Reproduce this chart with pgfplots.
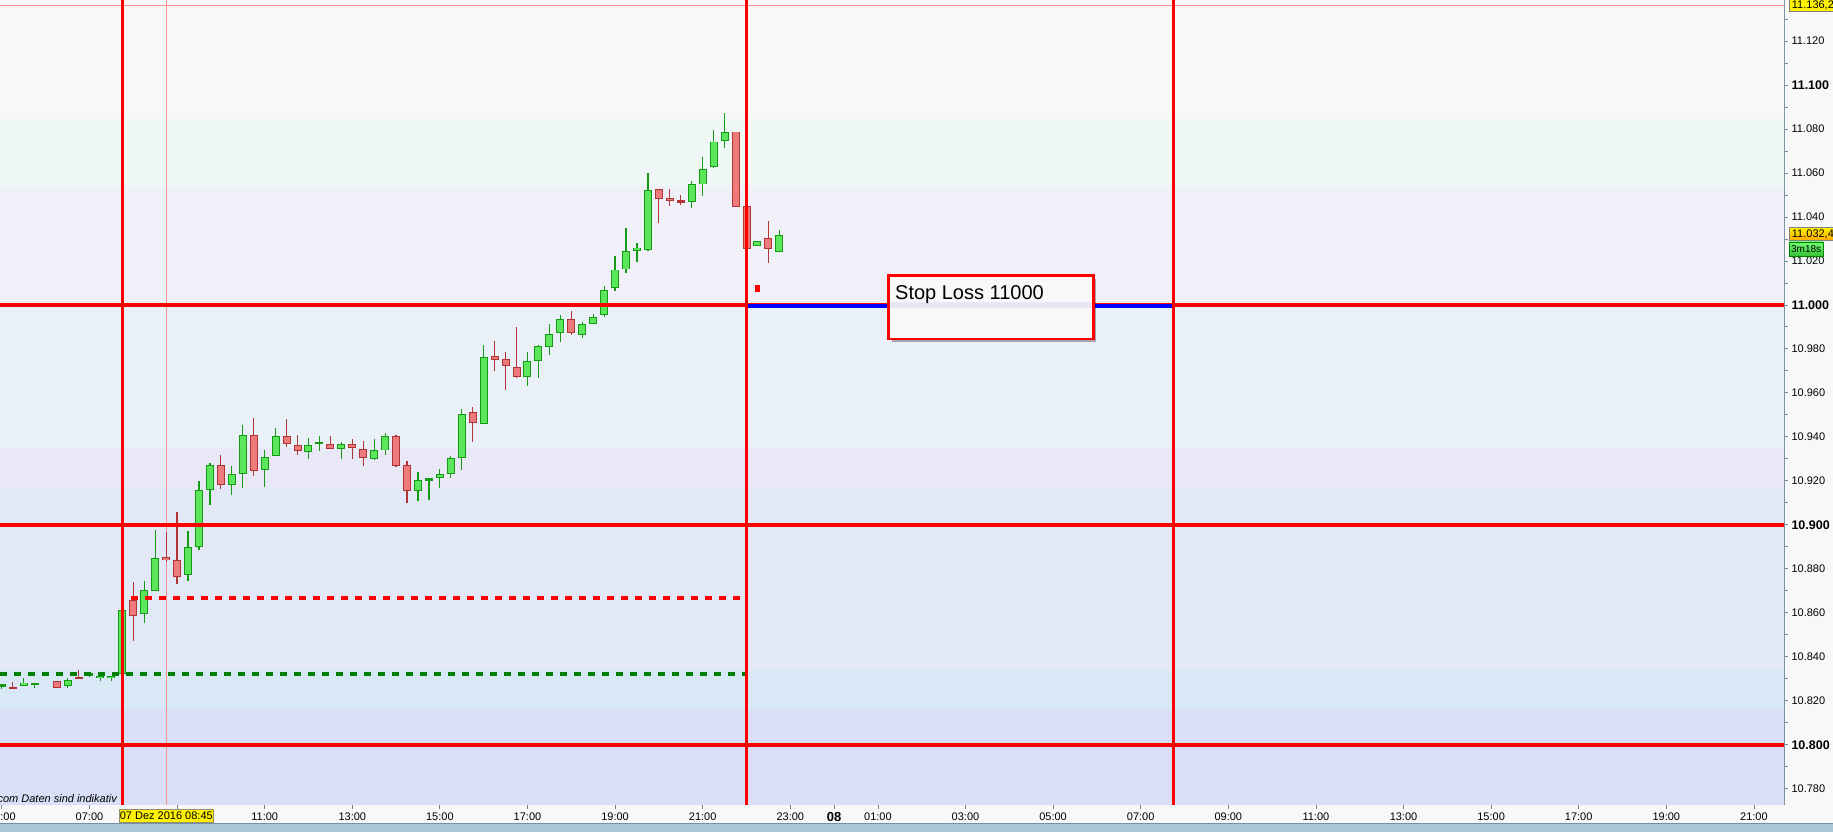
\documentclass[border=0pt]{standalone}
\usepackage{fontspec}
\setmainfont{Liberation Sans}
\usepackage{pgfplots}
\pgfplotsset{compat=1.18}
\usepackage{pgfplotstable}

\definecolor{bgtop}{HTML}{F8F8F8}
\definecolor{bandA}{HTML}{F0F8F7}
\definecolor{bandB}{HTML}{F0F0F8}
\definecolor{bandC}{HTML}{EAF0F8}
\definecolor{bandD}{HTML}{E9E8F6}
\definecolor{bandE}{HTML}{E2E8F5}
\definecolor{bandF}{HTML}{D9E8F6}
\definecolor{bandG}{HTML}{D8DFF6}
\definecolor{axisgray}{HTML}{708898}
\definecolor{strip}{HTML}{A8C8D8}
\definecolor{stripline}{HTML}{7890A0}
\definecolor{gfill}{HTML}{5CE65C}
\definecolor{gborder}{HTML}{159A15}
\definecolor{rfill}{HTML}{EE7B7B}
\definecolor{rborder}{HTML}{B03434}
\definecolor{pinkline}{HTML}{FF9090}
\definecolor{dgreen}{HTML}{008000}
\definecolor{lav}{HTML}{E8E8F5}

\newcommand\B[1]{{\bfseries\fontsize{12.5}{14}\selectfont #1}}

\pgfplotstableread{
t O H L C
5.00 10827.0 10827.2 10825.3 10827.0
5.50 10827.0 10830.3 10827.0 10828.4
5.75 10827.5 10827.5 10826.0 10827.5
6.50 10826.9 10830.7 10826.0 10829.3
7.00 10832.0 10833.4 10830.9 10832.0
7.25 10830.2 10831.2 10829.1 10831.2
7.50 10830.3 10831.4 10829.1 10831.4
7.75 10832.1 10861.3 10832.1 10861.3
8.25 10859.6 10874.4 10855.5 10870.2
8.50 10870.0 10897.6 10870.0 10884.8
9.25 10877.5 10897.2 10874.4 10889.9
9.50 10890.0 10919.9 10888.7 10915.8
9.75 10916.1 10928.1 10909.1 10927.1
10.25 10918.2 10926.7 10913.7 10923.4
10.50 10923.2 10945.4 10916.9 10940.7
11.00 10924.8 10934.0 10917.3 10930.7
11.25 10931.2 10944.0 10931.2 10940.3
12.00 10933.4 10939.5 10929.9 10936.6
12.25 10937.3 10940.3 10933.6 10937.3
12.75 10934.8 10937.6 10929.9 10937.0
13.50 10930.0 10938.9 10929.5 10933.9
13.75 10933.9 10941.7 10931.9 10940.3
14.50 10915.7 10924.0 10910.9 10920.7
14.75 10920.3 10921.2 10911.4 10921.2
15.00 10921.6 10925.4 10916.9 10923.4
15.25 10923.2 10931.3 10921.4 10930.7
15.50 10930.7 10952.7 10925.1 10950.7
16.00 10946.0 10981.8 10946.0 10976.2
17.00 10967.3 10978.6 10963.3 10974.8
17.25 10974.4 10981.8 10966.9 10981.2
17.50 10981.2 10991.3 10977.4 10987.1
17.75 10987.5 10995.4 10983.3 10993.5
18.25 10986.6 10992.2 10985.3 10991.6
18.50 10991.2 10995.8 10991.2 10994.8
18.75 10995.3 11008.6 10994.8 11007.1
19.00 11008.0 11022.2 11006.6 11016.2
19.25 11016.2 11035.0 11014.8 11024.8
19.50 11024.8 11028.2 11019.6 11026.2
19.75 11025.3 11060.0 11024.8 11052.6
20.75 11046.7 11056.7 11044.4 11054.8
21.00 11054.8 11067.6 11049.7 11061.7
21.25 11062.6 11079.4 11062.1 11074.4
21.50 11074.4 11087.1 11071.2 11078.5
22.25 11027.1 11029.4 11027.1 11029.4
22.75 11024.4 11034.1 11024.4 11032.1
}\greentab

\pgfplotstableread{
t O H L C
5.25 10826.1 10828.6 10825.2 10825.2
6.25 10829.3 10829.3 10826.1 10826.1
6.75 10830.6 10834.0 10830.3 10830.3
8.00 10865.8 10874.0 10847.3 10858.7
8.75 10885.2 10896.7 10883.3 10883.9
9.00 10883.9 10905.8 10873.2 10876.4
10.00 10927.1 10931.7 10916.4 10918.0
10.75 10940.7 10948.6 10922.3 10924.3
11.50 10940.3 10948.1 10935.5 10936.6
11.75 10936.2 10940.8 10931.9 10933.4
12.50 10937.0 10940.4 10934.8 10934.8
13.00 10937.0 10938.9 10929.9 10935.1
13.25 10934.8 10938.1 10926.9 10930.7
14.00 10940.3 10940.7 10926.4 10926.9
14.25 10927.1 10929.0 10910.0 10915.7
15.75 10951.2 10953.6 10937.8 10946.2
16.25 10976.6 10983.6 10970.1 10975.1
16.50 10975.3 10978.6 10961.4 10972.4
16.75 10972.0 10989.9 10966.9 10967.3
18.00 10993.5 10997.2 10986.6 10987.1
20.00 11052.6 11053.0 11037.4 11048.0
20.25 11048.9 11053.0 11045.3 11047.6
20.50 11047.6 11049.8 11045.7 11046.7
21.75 11078.9 11078.9 11044.4 11044.4
22.00 11044.8 11044.8 11025.3 11025.3
22.50 11030.7 11038.2 11019.2 11025.7
}\redtab

\pgfplotsset{
  wick/.style={only marks, mark=*, mark size=0pt, mark options={draw=none, fill=none}, forget plot,
    error bars/.cd, y dir=both, y explicit, error mark=none,
    error bar style={line width=1.2pt, draw=#1}},
  body/.style 2 args={only marks, mark=*, mark size=0pt, mark options={draw=none, fill=none}, forget plot,
    error bars/.cd, y dir=both, y explicit, error mark=none,
    error bar style={line width=#2, draw=#1}},
}

\begin{document}
\begin{tikzpicture}
\fill[bgtop] (0pt,-27pt) rectangle (1833pt,805pt);
\fill[strip] (0pt,-27pt) rectangle (1833pt,-18.8pt);
\draw[stripline, line width=1pt] (0pt,-18.5pt) -- (1833pt,-18.5pt);
\begin{axis}[
  at={(0pt,0pt)}, anchor=south west,
  scale only axis, width=1784pt, height=805pt,
  xmin=4.957, xmax=45.687, ymin=10772.6, ymax=11138.65,
  axis x line=bottom, axis y line=right,
  axis line style={draw=axisgray, line width=1pt, -},
  tick align=outside, major tick length=4pt, minor tick length=4pt,
  tick style={draw=axisgray, line width=0.8pt},
  clip mode=individual,
  xtick={5,7,9,11,13,15,17,19,21,23,24,25,27,29,31,33,35,37,39,41,43,45},
  xticklabels={05:00,07:00,09:00,11:00,13:00,15:00,17:00,19:00,21:00,23:00,{\bfseries\fontsize{13}{15}\selectfont 08},01:00,03:00,05:00,07:00,09:00,11:00,13:00,15:00,17:00,19:00,21:00},
  ytick={10780,10800,10820,10840,10860,10880,10900,10920,10940,10960,10980,11000,11020,11040,11060,11080,11100,11120},
  yticklabels={10.780,\B{10.800},10.820,10.840,10.860,10.880,\B{10.900},10.920,10.940,10.960,10.980,\B{11.000},11.020,11.040,11.060,11.080,\B{11.100},11.120},
  minor ytick={10790,10810,10830,10850,10870,10890,10910,10930,10950,10970,10990,11010,11030,11050,11070,11090,11110,11130},
  ticklabel style={font=\fontsize{11}{13}\selectfont, text=black},
]
% background bands
\addplot[draw=none, fill=bgtop, forget plot] coordinates {(4.9,11084.4) (45.8,11084.4) (45.8,11140) (4.9,11140)} -- cycle;
\addplot[draw=none, fill=bandA, forget plot] coordinates {(4.9,11054.2) (45.8,11054.2) (45.8,11084.4) (4.9,11084.4)} -- cycle;
\addplot[draw=none, fill=bandB, forget plot] coordinates {(4.9,11000.9) (45.8,11000.9) (45.8,11054.2) (4.9,11054.2)} -- cycle;
\addplot[draw=none, fill=bandC, forget plot] coordinates {(4.9,10935.1) (45.8,10935.1) (45.8,11000.9) (4.9,11000.9)} -- cycle;
\addplot[draw=none, fill=bandD, forget plot] coordinates {(4.9,10916.9) (45.8,10916.9) (45.8,10935.1) (4.9,10935.1)} -- cycle;
\addplot[draw=none, fill=bandE, forget plot] coordinates {(4.9,10834.0) (45.8,10834.0) (45.8,10916.9) (4.9,10916.9)} -- cycle;
\addplot[draw=none, fill=bandF, forget plot] coordinates {(4.9,10816.1) (45.8,10816.1) (45.8,10834.0) (4.9,10834.0)} -- cycle;
\addplot[draw=none, fill=bandG, forget plot] coordinates {(4.9,10770) (45.8,10770) (45.8,10816.1) (4.9,10816.1)} -- cycle;
% thin pink lines
\addplot[pinkline, line width=1pt, forget plot] coordinates {(8.75,10770) (8.75,11140)};
\addplot[pinkline, line width=1pt, forget plot] coordinates {(4.957,11136.2) (45.687,11136.2)};
% candles: wicks
\addplot[wick=gborder] table[x=t, y expr={(\thisrow{H}+\thisrow{L})/2}, y error plus expr={(\thisrow{H}-\thisrow{L})/2}, y error minus expr={(\thisrow{H}-\thisrow{L})/2}] {\greentab};
\addplot[wick=rborder] table[x=t, y expr={(\thisrow{H}+\thisrow{L})/2}, y error plus expr={(\thisrow{H}-\thisrow{L})/2}, y error minus expr={(\thisrow{H}-\thisrow{L})/2}] {\redtab};
% bodies
\addplot[body={gborder}{8pt}] table[x=t, y expr={(\thisrow{O}+\thisrow{C})/2}, y error plus expr={max(abs(\thisrow{C}-\thisrow{O})/2,0.55)}, y error minus expr={max(abs(\thisrow{C}-\thisrow{O})/2,0.55)}] {\greentab};
\addplot[body={gfill}{6pt}] table[x=t, y expr={(\thisrow{O}+\thisrow{C})/2}, y error plus expr={max(abs(\thisrow{C}-\thisrow{O})/2-0.45,0)}, y error minus expr={max(abs(\thisrow{C}-\thisrow{O})/2-0.45,0)}] {\greentab};
\addplot[body={rborder}{8pt}] table[x=t, y expr={(\thisrow{O}+\thisrow{C})/2}, y error plus expr={max(abs(\thisrow{C}-\thisrow{O})/2,0.55)}, y error minus expr={max(abs(\thisrow{C}-\thisrow{O})/2,0.55)}] {\redtab};
\addplot[body={rfill}{6pt}] table[x=t, y expr={(\thisrow{O}+\thisrow{C})/2}, y error plus expr={max(abs(\thisrow{C}-\thisrow{O})/2-0.45,0)}, y error minus expr={max(abs(\thisrow{C}-\thisrow{O})/2-0.45,0)}] {\redtab};
% dashed entry lines
\addplot[dgreen, line width=3.7pt, dash pattern=on 6.7pt off 7.3pt, forget plot] coordinates {(4.957,10832.1) (22.0,10832.1)};
\addplot[red, line width=3.7pt, dash pattern=on 6.7pt off 7.3pt, forget plot] coordinates {(7.95,10866.8) (22.0,10866.8)};
% horizontal levels
\addplot[red, line width=3.7pt, forget plot] coordinates {(4.957,11000) (45.687,11000)};
\addplot[red, line width=3.7pt, forget plot] coordinates {(4.957,10900) (45.687,10900)};
\addplot[red, line width=3.7pt, forget plot] coordinates {(4.957,10800) (45.687,10800)};
% stop loss segment
\addplot[blue, line width=4pt, forget plot] coordinates {(22.0,10999.5) (31.75,10999.5)};
% vertical time lines
\addplot[red, line width=3.5pt, forget plot] coordinates {(7.75,10770) (7.75,11140)};
\addplot[red, line width=3.5pt, forget plot] coordinates {(22.0,10770) (22.0,11140)};
\addplot[red, line width=3.5pt, forget plot] coordinates {(31.75,10770) (31.75,11140)};
% small marker
\addplot[red, only marks, mark=square*, mark size=2.5pt, mark options={xscale=0.8, yscale=1.2, draw=red, fill=red, line width=0pt}, forget plot] coordinates {(22.25,11007.3)};
% stop loss box
\fill[black, opacity=0.3] (axis cs:25.32,11011.9) rectangle (axis cs:29.99,10983.1);
\fill[bgtop] (axis cs:25.244,11013.3) rectangle (axis cs:29.92,10984.5);
\fill[lav] (axis cs:25.244,11001.5) rectangle (axis cs:29.92,10998.7);
\draw[red, line width=2.7pt] (axis cs:25.244,11013.3) rectangle (axis cs:29.92,10984.5);
\node[anchor=base west, inner sep=0pt, font=\fontsize{20}{24}\selectfont] at (axis cs:25.39,11002.5) {Stop Loss 11000};
\end{axis}
% overlays outside the plot area
\node[anchor=base east, inner sep=0pt, font=\fontsize{11}{13}\selectfont\itshape] at (117pt,2.7pt) {com\ Daten sind indikativ};
\node[fill=yellow, draw=gray!80!olive, line width=0.8pt, inner sep=0pt, minimum width=94pt, minimum height=13pt, font=\fontsize{11}{13}\selectfont] at (166.3pt,-10.8pt) {07 Dez 2016 08:45};
\node[fill=yellow, draw=gray, line width=0.8pt, anchor=west, inner sep=0pt, minimum width=50pt, minimum height=13pt, font=\fontsize{11}{13}\selectfont, text width=48pt, align=left] at (1789pt,799.7pt) {\hspace*{1.5pt}11.136,2};
\node[top color=yellow!90!orange, bottom color=orange!70!yellow, draw=gray, line width=0.8pt, anchor=west, inner sep=0pt, minimum width=50pt, minimum height=13pt, font=\fontsize{11}{13}\selectfont, text width=48pt, align=left] at (1789pt,570.8pt) {\hspace*{1.5pt}11.032,4};
\node[top color=green!55!white, bottom color=green!70!black!80, draw=green!50!black, line width=0.6pt, anchor=north west, inner sep=0pt, minimum width=33.7pt, minimum height=14.3pt, font=\fontsize{10}{12}\selectfont] at (1789pt,563.3pt) {3m18s};
\pgfresetboundingbox
\useasboundingbox (0pt,-27pt) rectangle (1833pt,805pt);
\end{tikzpicture}
\end{document}
